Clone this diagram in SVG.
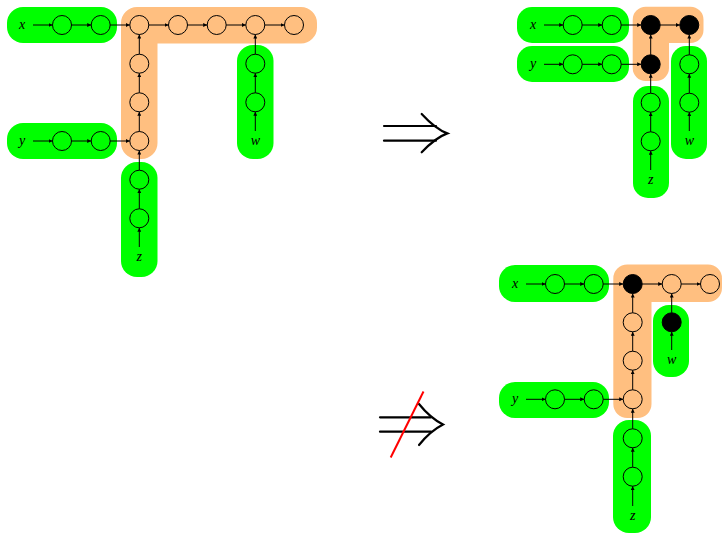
<svg xmlns="http://www.w3.org/2000/svg" width="722" height="533" viewBox="0 0 722 533">
<style>
.g{fill:#00ff00}
.o{fill:#ffbf80}
.n{fill:none;stroke:#000;stroke-width:1}
.b{fill:#000;stroke:#000;stroke-width:1}
.e{stroke:#000;stroke-width:1;fill:none;marker-end:url(#a)}
.l{font-family:"Liberation Serif",serif;font-style:italic;font-size:14px;text-anchor:middle;fill:#000}
.imp{stroke:#000;stroke-width:2.2;fill:none;stroke-linecap:round}
</style>
<defs>
<marker id="a" markerWidth="5" markerHeight="4" refX="4" refY="2" orient="auto" markerUnits="userSpaceOnUse"><path d="M0,0 L4,2 L0,4 z" fill="#000"/></marker>
</defs>
<rect width="722" height="533" fill="#fff"/>

<g id="regions">
<!-- left -->
<rect class="g" x="7" y="7" width="110" height="36" rx="16"/>
<rect class="g" x="7" y="123" width="110" height="36" rx="16"/>
<rect class="g" x="237" y="45" width="36.5" height="114" rx="16"/>
<rect class="g" x="121" y="162" width="36.5" height="115" rx="16"/>
<path class="o" d="M121,23 A16,16 0 0 1 137,7 H301 A16,16 0 0 1 317,23 V27.5 A16,16 0 0 1 301,43.5 H157.5 V143 A16,16 0 0 1 141.5,159 H137 A16,16 0 0 1 121,143 Z"/>
<!-- right top -->
<rect class="g" x="517" y="7" width="112" height="36" rx="15"/>
<rect class="g" x="517" y="46" width="112" height="36" rx="15"/>
<rect class="g" x="633" y="86" width="36" height="112" rx="15"/>
<rect class="g" x="671" y="46" width="36" height="113" rx="15"/>
<path class="o" d="M632.7,19.7 A13,13 0 0 1 645.7,6.7 H690.5 A13,13 0 0 1 703.5,19.7 V30 A13,13 0 0 1 690.5,43 H669 V68 A13,13 0 0 1 656,81 H645.7 A13,13 0 0 1 632.7,68 Z"/>
<!-- right bottom -->
<rect class="g" x="499" y="265" width="110" height="37" rx="16"/>
<rect class="g" x="499" y="382" width="110" height="36" rx="16"/>
<rect class="g" x="653" y="305" width="36" height="72" rx="16"/>
<rect class="g" x="613" y="420" width="38" height="113" rx="16"/>
<path class="o" d="M613.3,278.5 A14,14 0 0 1 627.3,264.5 H708 A14,14 0 0 1 722,278.5 V288 A14,14 0 0 1 708,302 H651.5 V404 A14,14 0 0 1 637.5,418 H627.3 A14,14 0 0 1 613.3,404 Z"/>
</g>

<g id="connectors">
<!-- left -->
<line class="e" x1="33" y1="25" x2="52.5" y2="25"/>
<line class="e" x1="71.5" y1="25" x2="91.2" y2="25"/>
<line class="e" x1="110.2" y1="25" x2="129.8" y2="25"/>
<line class="e" x1="148.8" y1="25" x2="168.5" y2="25"/>
<line class="e" x1="187.5" y1="25" x2="207.2" y2="25"/>
<line class="e" x1="226.2" y1="25" x2="245.8" y2="25"/>
<line class="e" x1="264.8" y1="25" x2="284.5" y2="25"/>
<line class="e" x1="139.3" y1="131.5" x2="139.3" y2="111.8"/>
<line class="e" x1="139.3" y1="92.8" x2="139.3" y2="73.2"/>
<line class="e" x1="139.3" y1="54.2" x2="139.3" y2="34.5"/>
<line class="e" x1="139.3" y1="247" x2="139.3" y2="227.8"/>
<line class="e" x1="139.3" y1="208.8" x2="139.3" y2="189.2"/>
<line class="e" x1="139.3" y1="170.2" x2="139.3" y2="150.5"/>
<line class="e" x1="255.3" y1="131" x2="255.3" y2="111.8"/>
<line class="e" x1="255.3" y1="92.8" x2="255.3" y2="73.2"/>
<line class="e" x1="255.3" y1="54.2" x2="255.3" y2="34.5"/>
<line class="e" x1="33" y1="141" x2="52.5" y2="141"/>
<line class="e" x1="71.5" y1="141" x2="91.2" y2="141"/>
<line class="e" x1="110.2" y1="141" x2="129.8" y2="141"/>
<!-- right top -->
<line class="e" x1="544" y1="25" x2="563.2" y2="25"/>
<line class="e" x1="582.2" y1="25" x2="602.2" y2="25"/>
<line class="e" x1="621.2" y1="25" x2="641.2" y2="25"/>
<line class="e" x1="660.2" y1="25" x2="679.8" y2="25"/>
<line class="e" x1="544" y1="64.3" x2="563.2" y2="64.3"/>
<line class="e" x1="582.2" y1="64.3" x2="602.2" y2="64.3"/>
<line class="e" x1="621.2" y1="64.3" x2="641.2" y2="64.3"/>
<line class="e" x1="650.7" y1="54.8" x2="650.7" y2="34.5"/>
<line class="e" x1="650.7" y1="93.2" x2="650.7" y2="73.8"/>
<line class="e" x1="650.7" y1="131.8" x2="650.7" y2="112.2"/>
<line class="e" x1="650.7" y1="170" x2="650.7" y2="150.8"/>
<line class="e" x1="689.3" y1="54.8" x2="689.3" y2="34.5"/>
<line class="e" x1="689.3" y1="93.2" x2="689.3" y2="73.8"/>
<line class="e" x1="689.3" y1="131" x2="689.3" y2="112.2"/>
<!-- right bottom -->
<line class="e" x1="526" y1="284" x2="545.5" y2="284"/>
<line class="e" x1="564.5" y1="284" x2="584.2" y2="284"/>
<line class="e" x1="603.2" y1="284" x2="623.2" y2="284"/>
<line class="e" x1="642.2" y1="284" x2="662.2" y2="284"/>
<line class="e" x1="681.2" y1="284" x2="700.5" y2="284"/>
<line class="e" x1="632.7" y1="389.8" x2="632.7" y2="370.2"/>
<line class="e" x1="632.7" y1="351.2" x2="632.7" y2="331.8"/>
<line class="e" x1="632.7" y1="312.8" x2="632.7" y2="293.5"/>
<line class="e" x1="632.7" y1="506" x2="632.7" y2="486.2"/>
<line class="e" x1="632.7" y1="467.2" x2="632.7" y2="447.8"/>
<line class="e" x1="632.7" y1="428.8" x2="632.7" y2="408.8"/>
<line class="e" x1="671.7" y1="350" x2="671.7" y2="331.8"/>
<line class="e" x1="671.7" y1="312.8" x2="671.7" y2="293.5"/>
<line class="e" x1="526" y1="399.3" x2="545.5" y2="399.3"/>
<line class="e" x1="564.5" y1="399.3" x2="584.2" y2="399.3"/>
<line class="e" x1="603.2" y1="399.3" x2="623.2" y2="399.3"/>
</g>

<!-- left diagram nodes -->
<g id="L-x"><text class="l" x="22" y="29">x</text></g>
<g id="L-y"><text class="l" x="22" y="145">y</text></g>
<g id="L-z"><text class="l" x="139.3" y="261">z</text></g>
<g id="L-w"><text class="l" x="255.3" y="145">w</text></g>
<g id="L-x1"><circle class="n" cx="62" cy="25" r="9.5"/></g>
<g id="L-x2"><circle class="n" cx="100.7" cy="25" r="9.5"/></g>
<g id="L-a1"><circle class="n" cx="139.3" cy="25" r="9.5"/></g>
<g id="L-a2"><circle class="n" cx="178" cy="25" r="9.5"/></g>
<g id="L-a3"><circle class="n" cx="216.7" cy="25" r="9.5"/></g>
<g id="L-a4"><circle class="n" cx="255.3" cy="25" r="9.5"/></g>
<g id="L-a5"><circle class="n" cx="294" cy="25" r="9.5"/></g>
<g id="L-v1"><circle class="n" cx="139.3" cy="63.7" r="9.5"/></g>
<g id="L-v2"><circle class="n" cx="139.3" cy="102.3" r="9.5"/></g>
<g id="L-v3"><circle class="n" cx="139.3" cy="141" r="9.5"/></g>
<g id="L-y1"><circle class="n" cx="62" cy="141" r="9.5"/></g>
<g id="L-y2"><circle class="n" cx="100.7" cy="141" r="9.5"/></g>
<g id="L-z1"><circle class="n" cx="139.3" cy="179.7" r="9.5"/></g>
<g id="L-z2"><circle class="n" cx="139.3" cy="218.3" r="9.5"/></g>
<g id="L-w1"><circle class="n" cx="255.3" cy="63.7" r="9.5"/></g>
<g id="L-w2"><circle class="n" cx="255.3" cy="102.3" r="9.5"/></g>

<!-- right top nodes -->
<g id="T-x"><text class="l" x="533" y="29">x</text></g>
<g id="T-y"><text class="l" x="533" y="68.3">y</text></g>
<g id="T-z"><text class="l" x="650.7" y="184">z</text></g>
<g id="T-w"><text class="l" x="689.3" y="145.3">w</text></g>
<g id="T-x1"><circle class="n" cx="572.7" cy="25" r="9.5"/></g>
<g id="T-x2"><circle class="n" cx="611.7" cy="25" r="9.5"/></g>
<g id="T-a1"><circle class="b" cx="650.7" cy="25" r="9.5"/></g>
<g id="T-a2"><circle class="b" cx="689.3" cy="25" r="9.5"/></g>
<g id="T-b1"><circle class="b" cx="650.7" cy="64.3" r="9.5"/></g>
<g id="T-y1"><circle class="n" cx="572.7" cy="64.3" r="9.5"/></g>
<g id="T-y2"><circle class="n" cx="611.7" cy="64.3" r="9.5"/></g>
<g id="T-z1"><circle class="n" cx="650.7" cy="102.7" r="9.5"/></g>
<g id="T-z2"><circle class="n" cx="650.7" cy="141.3" r="9.5"/></g>
<g id="T-w1"><circle class="n" cx="689.3" cy="64.3" r="9.5"/></g>
<g id="T-w2"><circle class="n" cx="689.3" cy="102.7" r="9.5"/></g>

<!-- right bottom nodes -->
<g id="B-x"><text class="l" x="515" y="288">x</text></g>
<g id="B-y"><text class="l" x="515" y="403.3">y</text></g>
<g id="B-z"><text class="l" x="632.7" y="520">z</text></g>
<g id="B-w"><text class="l" x="671.7" y="364">w</text></g>
<g id="B-x1"><circle class="n" cx="555" cy="284" r="9.5"/></g>
<g id="B-x2"><circle class="n" cx="593.7" cy="284" r="9.5"/></g>
<g id="B-a1"><circle class="b" cx="632.7" cy="284" r="9.5"/></g>
<g id="B-a2"><circle class="n" cx="671.7" cy="284" r="9.5"/></g>
<g id="B-a3"><circle class="n" cx="710" cy="284" r="9.5"/></g>
<g id="B-v1"><circle class="n" cx="632.7" cy="322.3" r="9.5"/></g>
<g id="B-v2"><circle class="n" cx="632.7" cy="360.7" r="9.5"/></g>
<g id="B-v3"><circle class="n" cx="632.7" cy="399.3" r="9.5"/></g>
<g id="B-y1"><circle class="n" cx="555" cy="399.3" r="9.5"/></g>
<g id="B-y2"><circle class="n" cx="593.7" cy="399.3" r="9.5"/></g>
<g id="B-z1"><circle class="n" cx="632.7" cy="438.3" r="9.5"/></g>
<g id="B-z2"><circle class="n" cx="632.7" cy="476.7" r="9.5"/></g>
<g id="B-w1"><circle class="b" cx="671.7" cy="322.3" r="9.5"/></g>

<!-- implication symbols -->
<g id="implies">
<line class="imp" x1="384" y1="126" x2="436" y2="126"/>
<line class="imp" x1="384" y1="140.7" x2="436" y2="140.7"/>
<path class="imp" d="M421.7,114 Q435.5,129 447.3,133.4 Q435.5,137.7 421.7,152.3"/>
</g>
<g id="not-implies">
<line class="imp" x1="380" y1="417.3" x2="431" y2="417.3"/>
<line class="imp" x1="380" y1="431.7" x2="431" y2="431.7"/>
<path class="imp" d="M419,404 Q430,417.8 443,424.5 Q430,431.2 419,445"/>
<line x1="423.5" y1="391.5" x2="390.7" y2="457.5" stroke="#ff0000" stroke-width="2"/>
</g>
</svg>
